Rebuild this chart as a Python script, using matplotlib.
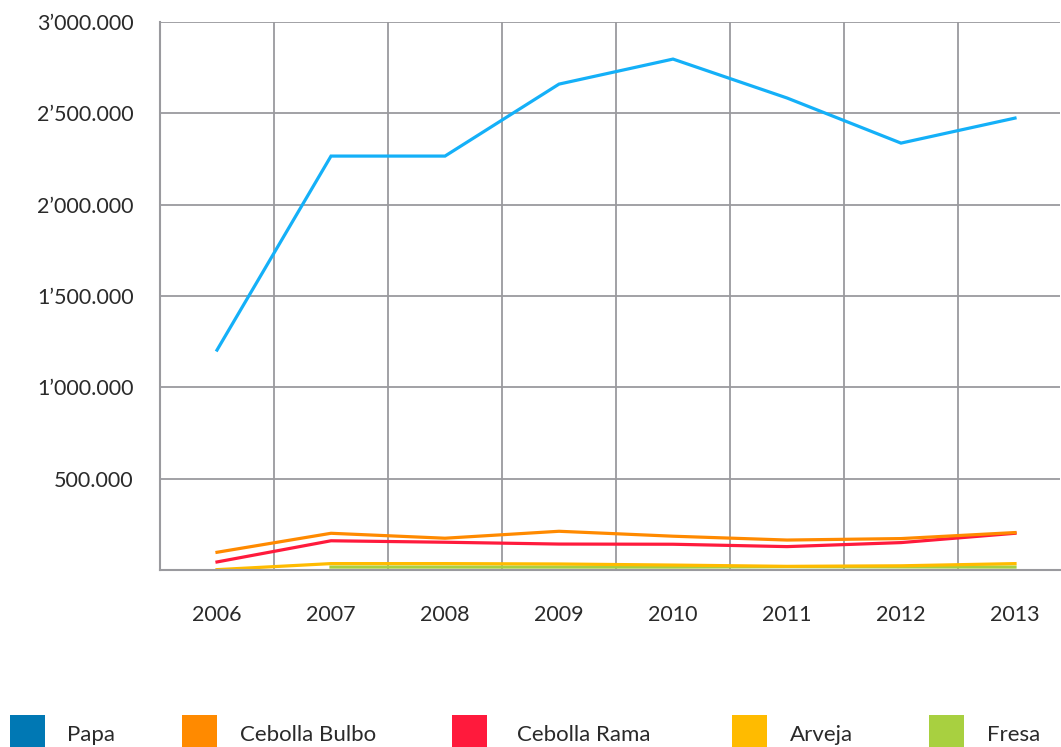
import numpy as np
import matplotlib
matplotlib.use("Agg")
import matplotlib.pyplot as plt
from matplotlib.patches import Rectangle
from matplotlib.ticker import FuncFormatter, MultipleLocator

years = ["2006", "2007", "2008", "2009", "2010", "2011", "2012", "2013"]
papa = [1204000, 2266000, 2266000, 2660000, 2797000, 2584000, 2337000, 2474000]
cebolla_bulbo = [97000, 201000, 174000, 212000, 185000, 164000, 172000, 205000]
cebolla_rama = [44000, 160000, 152000, 142000, 141000, 128000, 150000, 201000]
arveja = [2000, 35000, 35000, 33000, 27000, 20000, 23000, 35000]
fresa = [np.nan, 16000, 16000, 16000, 16000, 18000, 17000, 16000]

names = ["Papa", "Cebolla Bulbo", "Cebolla Rama", "Arveja", "Fresa"]
series = [papa, cebolla_bulbo, cebolla_rama, arveja, fresa]
line_colors = ["#14b0f8", "#ff8a00", "#ff1a3c", "#ffbb00", "#a8d040"]
legend_colors = ["#0078b4", "#ff8a00", "#ff1a3c", "#ffbb00", "#a8d040"]

plt.rcParams['font.family'] = ['Lato', 'DejaVu Sans']
text_color = "#2a2a2a"
grid_color = "#9a9a9e"

fig = plt.figure(figsize=(10.61, 7.47), dpi=100)
ax = fig.add_axes([160 / 1061, 1 - 570 / 747, 900 / 1061, 548 / 747])

x = np.arange(len(years))
# draw the small ones first so papa stays on top
for vals, c in reversed(list(zip(series, line_colors))):
    ax.plot(x, vals, color=c, linewidth=2.3, solid_joinstyle="miter")

ax.set_xlim(-0.5, -0.5 + 900 / 114)
ax.set_ylim(0, 3000000)


def fmt(v, pos):
    v = int(round(v))
    if v == 0:
        return ""
    m = v // 1000000
    rest = v % 1000000
    if m > 0:
        return "{}\u2019{:03d}.{:03d}".format(m, rest // 1000, rest % 1000)
    return "{}.{:03d}".format(rest // 1000, rest % 1000)


ax.yaxis.set_major_locator(MultipleLocator(500000))
ax.yaxis.set_major_formatter(FuncFormatter(fmt))
ax.set_xticks(x)
ax.set_xticklabels(years)
ax.set_xticks(x[:-1] + 0.5, minor=True)

ax.grid(axis="y", which="major", color=grid_color, linewidth=1.3)
ax.grid(axis="x", which="minor", color=grid_color, linewidth=1.3)
ax.set_axisbelow(True)

for side in ["top", "right"]:
    ax.spines[side].set_visible(False)
for side in ["left", "bottom"]:
    ax.spines[side].set_color(grid_color)
    ax.spines[side].set_linewidth(1.5)

ax.tick_params(axis="both", which="both", length=0)
ax.tick_params(axis="y", pad=19, labelsize=15.5, labelcolor=text_color)
ax.tick_params(axis="x", pad=25, labelsize=15.5, labelcolor=text_color)

# legend along the bottom
box_x = [10, 182, 452, 732, 929]
text_x = [67, 240, 517, 790, 987]
W, H = 1061.0, 747.0
for bx, tx, name, c in zip(box_x, text_x, names, legend_colors):
    fig.patches.append(Rectangle((bx / W, 0), 35 / W, 32 / H, transform=fig.transFigure,
                                 facecolor=c, edgecolor="none"))
    fig.text(tx / W, 1 - 735 / H, name, ha="left", va="center", fontsize=16,
             color=text_color)

plt.savefig("out.png", dpi=100)
plt.close()
